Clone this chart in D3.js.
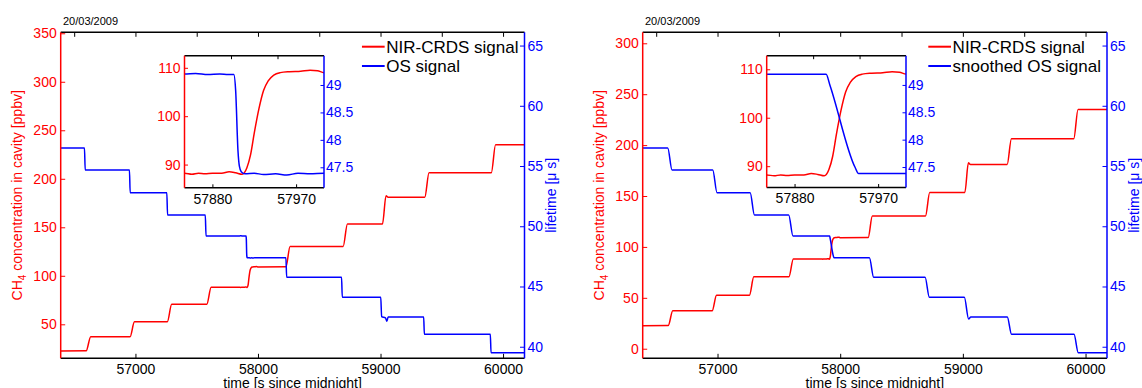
<!DOCTYPE html>
<html>
<head>
<meta charset="utf-8">
<script src="https://cdn.jsdelivr.net/npm/d3@7"></script>
<style>
  body { margin: 0; background: #fff; }
  svg { display: block; font-family: "Liberation Sans", Arial, sans-serif; }
</style>
</head>
<body>
<svg id="chart" width="1142" height="388"></svg>
<script>
// NIR-CRDS methane signal [time s, ppbv]
const crdsSignal = [
    [56388, 22.6], [56598, 22.7], [56635, 37.2],
    [56956, 37.2], [56992, 52.5],
    [57260, 52.6], [57296, 70.6],
    [57582, 70.6], [57618, 88.2],
    [57850, 88.2], [57858, 88.0], [57865, 88.2], [57872, 88.1], [57880, 88.2], [57890, 88.2],
    [57898, 88.5], [57905, 88.3], [57912, 88.0], [57917, 89.3], [57921, 92.0], [57925, 96.5],
    [57930, 101.5], [57935, 105.3], [57940, 107.3], [57946, 108.5], [57953, 109.0], [57963, 109.2],
    [57975, 109.3], [57985, 109.5], [57993, 109.4], [58000, 109.0],
    [58228, 109.2], [58262, 130.3],
    [58695, 130.3], [58730, 153.4],
    [59016, 153.4], [59045, 182.6], [59062, 180.9],
    [59361, 180.9], [59396, 206.2],
    [59904, 206.2], [59939, 235.0],
    [60180, 235.0]
];

// raw OS signal [time s, lifetime us]
const osSignal = [
    [56388, 56.5], [56584, 56.5], [56590, 54.68],
    [56951, 54.68], [56957, 52.79],
    [57256, 52.79], [57262, 50.94],
    [57570, 50.94], [57576, 49.2],
    [57850, 49.2], [57862, 49.21], [57875, 49.19], [57888, 49.2], [57897, 49.19], [57903, 49.19],
    [57905, 48.9], [57907.5, 47.8], [57909, 47.52], [57911, 47.42], [57915, 47.38], [57925, 47.39],
    [57935, 47.37], [57948, 47.38], [57960, 47.36], [57972, 47.39], [57985, 47.38], [58000, 47.39],
    [58228, 47.38], [58234, 45.76],
    [58682, 45.76], [58688, 44.1],
    [59002, 44.1], [59009, 42.5], [59040, 42.4], [59052, 42.12], [59062, 42.47],
    [59352, 42.47], [59358, 41.03],
    [59896, 41.03], [59902, 39.5],
    [60180, 39.5]
];

// smoothed OS signal [time s, lifetime us]
const smoothedOsSignal = [
    [56388, 56.5], [56594, 56.5], [56629, 54.68],
    [56961, 54.68], [56996, 52.79],
    [57266, 52.79], [57301, 50.94],
    [57580, 50.94], [57615, 49.2],
    [57914, 49.195], [57918, 49.0], [57945, 47.5], [57949, 47.38],
    [58238, 47.38], [58273, 45.76],
    [58692, 45.76], [58727, 44.1],
    [59012, 44.1], [59047, 42.3], [59065, 42.47],
    [59362, 42.47], [59397, 41.03],
    [59906, 41.03], [59941, 39.5],
    [60180, 39.5]
];

const timeTicks = [57000, 58000, 59000, 60000];
const timeMinorTicks = [56500, 57000, 57500, 58000, 58500, 59000, 59500, 60000];
const ppbTicksLeft = [50, 100, 150, 200, 250, 300, 350];
const ppbTicksRight = [0, 50, 100, 150, 200, 250, 300];
const lifetimeTicks = [40, 45, 50, 55, 60, 65];
const insetTimeTicks = [57880, 57970];
const insetTimeTopTicks = [57900, 57950];
const insetPpbTicks = [90, 100, 110];
const insetLifetimeTicks = [47.5, 48, 48.5, 49];
const legendNames = [["NIR-CRDS signal", "OS signal"], ["NIR-CRDS signal", "snoothed OS signal"]];
const dateLabel = "20/03/2009";

const RED = "#ff0000";
const BLUE = "#0000ff";
const plotTop = 32.3, plotBottom = 358.3;

const panels = [
    {
        left: 60.7, right: 524.5, ppbDomain: [14.95, 351], ppbTicks: ppbTicksLeft,
        os: osSignal, names: legendNames[0],
        inset: { left: 184.5, right: 324, top: 55.7, bottom: 187.8, ppbDomain: [85.2, 112.5] }
    },
    {
        left: 642.7, right: 1107, ppbDomain: [-9.4, 310.8], ppbTicks: ppbTicksRight,
        os: smoothedOsSignal, names: legendNames[1],
        inset: { left: 766.7, right: 906, top: 55.7, bottom: 187.5, ppbDomain: [85.6, 112.8] }
    }
];

const svg = d3.select("#chart");
const defs = svg.append("defs");

function styleAxis(g, color, size) {
    g.attr("font-family", null).attr("font-size", size).style("color", color);
    g.selectAll("line").attr("stroke-width", 1);
    g.select(".domain").remove();
}

function frame(g, b) {
    g.append("line").attr("x1", b.left).attr("x2", b.right).attr("y1", b.bottom).attr("y2", b.bottom)
        .attr("stroke", "#000").attr("stroke-width", 1.5);
    g.append("line").attr("x1", b.left).attr("x2", b.right).attr("y1", b.top).attr("y2", b.top)
        .attr("stroke", "#000").attr("stroke-width", 1.5);
    g.append("line").attr("x1", b.left).attr("x2", b.left).attr("y1", b.top).attr("y2", b.bottom)
        .attr("stroke", RED).attr("stroke-width", 1.5);
    g.append("line").attr("x1", b.right).attr("x2", b.right).attr("y1", b.top).attr("y2", b.bottom)
        .attr("stroke", BLUE).attr("stroke-width", 1.5);
}

function drawPanel(p, idx) {
    const g = svg.append("g");
    const x = d3.scaleLinear().domain([56390, 60175]).range([p.left, p.right]);
    const yPpb = d3.scaleLinear().domain(p.ppbDomain).range([plotBottom, plotTop]);
    const yLife = d3.scaleLinear().domain([39.04, 66.1]).range([plotBottom, plotTop]);

    defs.append("clipPath").attr("id", "clip" + idx)
        .append("rect").attr("x", p.left).attr("y", plotTop)
        .attr("width", p.right - p.left).attr("height", plotBottom - plotTop);

    const lineRed = d3.line().x(d => x(d[0])).y(d => yPpb(d[1])).curve(d3.curveMonotoneX);
    const lineBlue = d3.line().x(d => x(d[0])).y(d => yLife(d[1])).curve(d3.curveMonotoneX);

    const plot = g.append("g").attr("clip-path", `url(#clip${idx})`);
    plot.append("path").datum(crdsSignal).attr("d", lineRed)
        .attr("fill", "none").attr("stroke", RED).attr("stroke-width", 1.5);
    plot.append("path").datum(p.os).attr("d", lineBlue)
        .attr("fill", "none").attr("stroke", BLUE).attr("stroke-width", 1.5);

    // axes
    g.append("g").attr("transform", `translate(0,${plotBottom})`)
        .call(d3.axisBottom(x).tickValues(timeTicks).tickFormat(d3.format("d")).tickSizeInner(-4.5).tickSizeOuter(0).tickPadding(5.5))
        .call(s => styleAxis(s, "#000", 14));
    g.append("g").attr("transform", `translate(0,${plotTop})`)
        .call(d3.axisTop(x).tickValues(timeMinorTicks).tickFormat("").tickSizeInner(-4.5).tickSizeOuter(0))
        .call(s => styleAxis(s, "#000", 14));
    g.append("g").attr("transform", `translate(${p.left},0)`)
        .call(d3.axisLeft(yPpb).tickValues(p.ppbTicks).tickFormat(d3.format("d")).tickSizeInner(-4.5).tickSizeOuter(0).tickPadding(4))
        .call(s => styleAxis(s, RED, 14));
    g.append("g").attr("transform", `translate(${p.right},0)`)
        .call(d3.axisRight(yLife).tickValues(lifetimeTicks).tickFormat(d3.format("d")).tickSizeInner(-4.5).tickSizeOuter(0).tickPadding(3))
        .call(s => styleAxis(s, BLUE, 14));

    frame(g, { left: p.left, right: p.right, top: plotTop, bottom: plotBottom });

    // labels
    g.append("text").attr("x", p.left + 2.3).attr("y", 25).attr("font-size", 11).text(dateLabel);

    g.append("text").attr("x", (p.left + p.right) / 2).attr("y", 388)
        .attr("text-anchor", "middle").attr("font-size", 14).text("time [s since midnight]");

    const ylab = g.append("text")
        .attr("transform", `translate(${p.left - 38.7},${(plotTop + plotBottom) / 2}) rotate(-90)`)
        .attr("text-anchor", "middle").attr("font-size", 14).attr("fill", RED);
    ylab.append("tspan").text("CH");
    ylab.append("tspan").attr("font-size", 10).attr("dy", 4).text("4");
    ylab.append("tspan").attr("dy", -4).text(" concentration in cavity [ppbv]");

    g.append("text")
        .attr("transform", `translate(${p.right + 31.5},${(plotTop + plotBottom) / 2}) rotate(-90)`)
        .attr("text-anchor", "middle").attr("font-size", 14).attr("fill", BLUE)
        .text("lifetime [\u03bc s]");

    // legend
    const leg = g.append("g");
    const legTexts = leg.selectAll("text").data(p.names).enter().append("text")
        .attr("y", (d, i) => 52.7 + i * 19)
        .attr("font-size", 17)
        .text(d => d);
    let maxW = 0;
    legTexts.each(function () { maxW = Math.max(maxW, this.getComputedTextLength()); });
    const textX = p.right - 6 - maxW;
    legTexts.attr("x", textX);
    leg.selectAll("line").data([RED, BLUE]).enter().append("line")
        .attr("x1", textX - 24.3).attr("x2", textX - 1.6)
        .attr("y1", (d, i) => 46.7 + i * 19.3).attr("y2", (d, i) => 46.7 + i * 19.3)
        .attr("stroke", d => d).attr("stroke-width", 2);

    drawInset(g, p, idx);
}

function drawInset(g, p, idx) {
    const b = p.inset;
    const x = d3.scaleLinear().domain([57850, 58000]).range([b.left, b.right]);
    const yPpb = d3.scaleLinear().domain(b.ppbDomain).range([b.bottom, b.top]);
    const yLife = d3.scaleLinear().domain([47.126, 49.534]).range([b.bottom, b.top]);

    g.append("rect").attr("x", b.left).attr("y", b.top)
        .attr("width", b.right - b.left).attr("height", b.bottom - b.top).attr("fill", "#fff");

    defs.append("clipPath").attr("id", "inclip" + idx)
        .append("rect").attr("x", b.left).attr("y", b.top)
        .attr("width", b.right - b.left).attr("height", b.bottom - b.top);

    const lineRed = d3.line().x(d => x(d[0])).y(d => yPpb(d[1])).curve(d3.curveMonotoneX);
    const lineBlue = d3.line().x(d => x(d[0])).y(d => yLife(d[1])).curve(d3.curveMonotoneX);

    const plot = g.append("g").attr("clip-path", `url(#inclip${idx})`);
    plot.append("path").datum(crdsSignal).attr("d", lineRed)
        .attr("fill", "none").attr("stroke", RED).attr("stroke-width", 1.5);
    plot.append("path").datum(p.os).attr("d", lineBlue)
        .attr("fill", "none").attr("stroke", BLUE).attr("stroke-width", 1.5);

    g.append("g").attr("transform", `translate(0,${b.bottom})`)
        .call(d3.axisBottom(x).tickValues(insetTimeTicks).tickFormat(d3.format("d")).tickSizeInner(-3.5).tickSizeOuter(0).tickPadding(6))
        .call(s => styleAxis(s, "#000", 14));
    g.append("g").attr("transform", `translate(0,${b.top})`)
        .call(d3.axisTop(x).tickValues(insetTimeTopTicks).tickFormat("").tickSizeInner(-3.5).tickSizeOuter(0))
        .call(s => styleAxis(s, "#000", 14));
    g.append("g").attr("transform", `translate(${b.left},0)`)
        .call(d3.axisLeft(yPpb).tickValues(insetPpbTicks).tickFormat(d3.format("d")).tickSizeInner(-3.5).tickSizeOuter(0).tickPadding(4))
        .call(s => styleAxis(s, RED, 14));
    g.append("g").attr("transform", `translate(${b.right},0)`)
        .call(d3.axisRight(yLife).tickValues(insetLifetimeTicks).tickFormat(d => d).tickSizeInner(-3.5).tickSizeOuter(0).tickPadding(2))
        .call(s => styleAxis(s, BLUE, 14));

    frame(g, b);
}

panels.forEach(drawPanel);
</script>
</body>
</html>
